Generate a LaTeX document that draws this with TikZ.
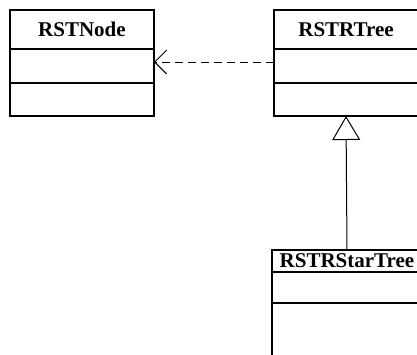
\documentclass[tikz,border=0pt]{standalone}
\usepackage{fontspec}
\setmainfont{Liberation Serif}
\usetikzlibrary{arrows.meta}
\begin{document}
\begin{tikzpicture}[x=1pt,y=-1pt,
  cbox/.style={draw, line width=2pt, rectangle, inner sep=0pt, outer sep=0pt, minimum width=144pt},
  hdr/.style={cbox, minimum height=39pt, font=\fontsize{21}{25}\selectfont\bfseries},
  conn/.style={line width=1pt},
]
\useasboundingbox (0,0) rectangle (417,354);
\clip (0,0) rectangle (417,354);
% RSTNode
\node[hdr, anchor=north west] (nodeH) at (10,10) {RSTNode};
\node[cbox, minimum height=34pt, anchor=north] (nodeA) at (nodeH.south) {};
\node[cbox, minimum height=33pt, anchor=north] (nodeB) at (nodeA.south) {};
% RSTRTree
\node[hdr, anchor=north west] (treeH) at (274,10) {RSTRTree};
\node[cbox, minimum height=34pt, anchor=north] (treeA) at (treeH.south) {};
\node[cbox, minimum height=33pt, anchor=north] (treeB) at (treeA.south) {};
% RSTRStarTree
\node[hdr, minimum width=150pt, minimum height=22pt, anchor=north west] (starH) at (272,250) {RSTRStarTree};
\node[cbox, minimum width=150pt, minimum height=31pt, anchor=north] (starA) at (starH.south) {};
\node[cbox, minimum width=150pt, minimum height=60pt, anchor=north] (starB) at (starA.south) {};
% dependency
\draw[conn, dashed, dash pattern=on 8pt off 5pt, -{Straight Barb[length=12pt,width=24pt,line width=1pt]}]
  ([yshift=4pt]treeA.west) -- ([yshift=4pt]nodeA.east);
% generalization
\draw[conn, -{Triangle[open,length=24pt,width=28pt,fill=white,line width=1pt]}]
  (starH.north) -- (treeB.south);
\end{tikzpicture}
\end{document}
